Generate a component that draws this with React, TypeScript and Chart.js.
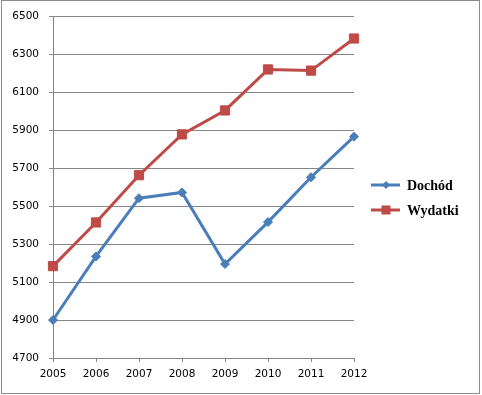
import React, { useEffect, useRef } from "react";
import { Chart, registerables } from "chart.js";

Chart.register(...registerables);

const years = ["2005", "2006", "2007", "2008", "2009", "2010", "2011", "2012"];
const dochod = [4900, 5235, 5542, 5572, 5195, 5416, 5652, 5866];
const wydatki = [5184, 5414, 5663, 5878, 6004, 6220, 6214, 6383];
const seriesNames = ["Dochód", "Wydatki"];
const blue = "#4a7ebb";
const red = "#be4b48";
const gridColor = "#868686";

const legendPlugin = {
  id: "customLegend",
  afterDraw(chart: any) {
    const ctx = chart.ctx;
    ctx.save();
    ctx.strokeStyle = "#8c8c8c";
    ctx.lineWidth = 1;
    ctx.strokeRect(1.5, 0.5, 478, 393);
    const items = [
      { label: seriesNames[0], color: blue, style: "diamond", y: 185 },
      { label: seriesNames[1], color: red, style: "square", y: 210 },
    ];
    items.forEach((it) => {
      ctx.strokeStyle = it.color;
      ctx.fillStyle = it.color;
      ctx.lineWidth = 3;
      ctx.beginPath();
      ctx.moveTo(371, it.y);
      ctx.lineTo(400, it.y);
      ctx.stroke();
      ctx.beginPath();
      if (it.style === "diamond") {
        ctx.moveTo(386, it.y - 4);
        ctx.lineTo(390, it.y);
        ctx.lineTo(386, it.y + 4);
        ctx.lineTo(382, it.y);
        ctx.closePath();
        ctx.fill();
      } else {
        ctx.fillRect(381.5, it.y - 4.5, 9, 9);
      }
      ctx.fillStyle = "#000";
      ctx.font = "bold 14px 'Liberation Serif', 'Times New Roman', serif";
      ctx.textAlign = "left";
      ctx.textBaseline = "middle";
      ctx.fillText(it.label, 407, it.y + 1);
    });
    ctx.restore();
  },
};

export default function App() {
  const ref = useRef<HTMLCanvasElement>(null);
  useEffect(() => {
    if (!ref.current) return;
    const chart = new Chart(ref.current, {
      type: "line",
      data: {
        labels: years,
        datasets: [
          {
            label: seriesNames[0],
            data: dochod,
            borderColor: blue,
            backgroundColor: blue,
            borderWidth: 3,
            pointStyle: "rectRot",
            pointRadius: 4.5,
            pointHoverRadius: 4.5,
            pointBorderWidth: 1,
            tension: 0,
          },
          {
            label: seriesNames[1],
            data: wydatki,
            borderColor: red,
            backgroundColor: red,
            borderWidth: 3,
            pointStyle: "rect",
            pointRadius: 6.5,
            pointHoverRadius: 6.5,
            pointBorderWidth: 1,
            tension: 0,
          },
        ],
      },
      options: {
        responsive: false,
        animation: false,
        layout: { padding: { top: 16, right: 128, left: 0, bottom: 0 } },
        plugins: { legend: { display: false }, tooltip: { enabled: false } },
        scales: {
          x: {
            offset: false,
            grid: {
              drawOnChartArea: false,
              drawTicks: true,
              tickLength: 4,
              color: gridColor,
            },
            border: { display: true, color: gridColor, width: 1 },
            ticks: {
              color: "#000",
              font: { family: "'DejaVu Sans', Tahoma, sans-serif", size: 10.5 },
              padding: 6,
              maxRotation: 0,
              autoSkip: false,
            },
            afterFit(scale: any) {
              scale.height = 37;
            },
          },
          y: {
            min: 4700,
            max: 6500,
            grid: {
              color: gridColor,
              drawTicks: true,
              tickLength: 4,
              lineWidth: 1,
            },
            border: { display: true, color: gridColor, width: 1 },
            ticks: {
              stepSize: 200,
              color: "#000",
              font: { family: "'DejaVu Sans', Tahoma, sans-serif", size: 10.5 },
              padding: 10,
              callback: (v: any) => String(v),
            },
            afterFit(scale: any) {
              scale.width = 53;
            },
          },
        },
      },
      plugins: [legendPlugin],
    });
    return () => chart.destroy();
  }, []);
  return (
    <div style={{ position: "fixed", left: 0, top: 0, width: 482, height: 395, background: "#fff" }}>
      <canvas ref={ref} width={482} height={395} style={{ display: "block" }} />
    </div>
  );
}
